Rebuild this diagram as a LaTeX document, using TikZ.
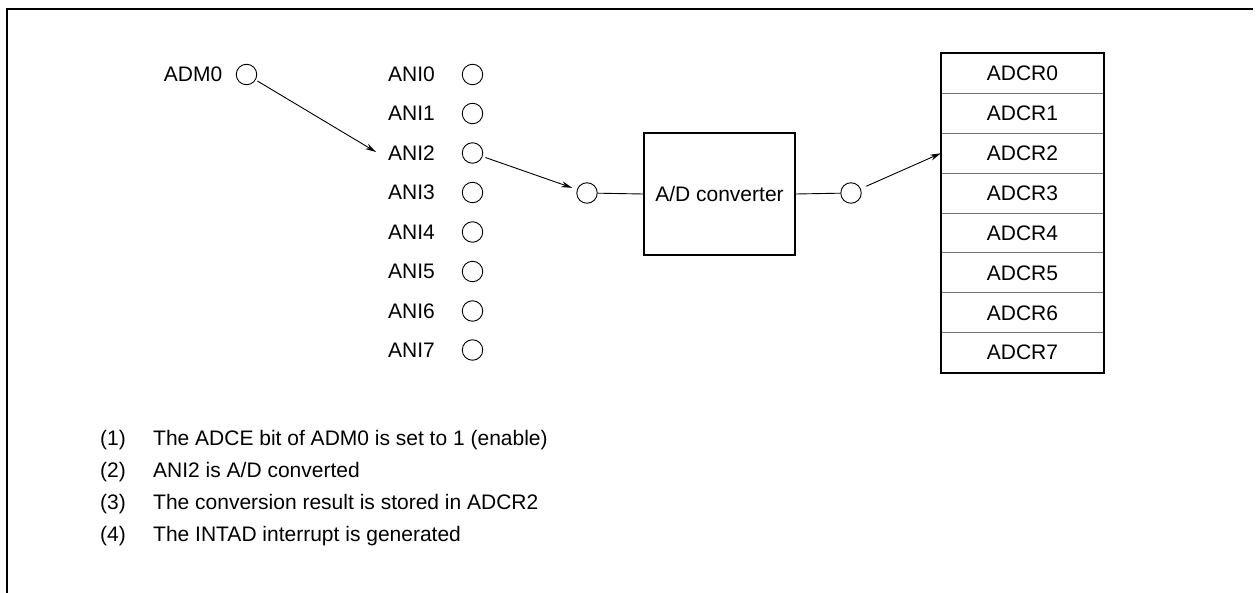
\documentclass[tikz,border=0pt]{standalone}
\usepackage{fontspec}
\setmainfont{Liberation Sans}
\usetikzlibrary{arrows.meta}
\begin{document}
\begin{tikzpicture}[x=1pt,y=-1pt,
  every node/.style={font=\fontsize{21}{25}\selectfont},
  pin/.style={circle,draw,line width=0.9pt,minimum size=20.5pt,inner sep=0pt},
  lbl/.style={anchor=east,inner sep=0pt},
  thin line/.style={line width=0.9pt},
  arr/.style={line width=0.9pt,-{Stealth[length=11pt,width=6pt]}},
  regrow/.style={draw=black!55,line width=0.9pt,minimum width=162pt,minimum height=39.9pt,inner sep=0pt,anchor=north west},
  conv/.style={draw,line width=2pt,minimum width=151pt,minimum height=122pt,inner sep=0pt},
  note/.style={anchor=base west,inner sep=0pt}]
\useasboundingbox (0,0) rectangle (1256,593);
% frame
\draw[line width=2pt] (7,593) -- (7,9) -- (1253,9);
% ADM0
\node[pin] (adm) at (246.5,74.5) {};
\node[lbl] (admlbl) at (222.5,74.5) {ADM0};
% ANI pins
\foreach \i/\y in {0/74.5,1/113.5,2/153,3/192.5,4/232,5/271.5,6/311,7/350}{
  \node[pin] (ani\i) at (472.5,\y) {};
  \node[lbl] (anilbl\i) at (435,\y) {ANI\i};
}
\coordinate (t2) at (376,152);
\draw[arr,shorten <=2pt] (adm) -- (t2);
% multiplexer output pin
\node[pin] (mux) at (587,193) {};
\draw[arr,shorten <=3pt,shorten >=5pt] (ani2) -- (mux);
% A/D converter
\node[conv] (adc) at (719.5,194) {A/D converter};
\draw[thin line] (mux) -- (adc.west);
\node[pin] (out) at (851,193) {};
\draw[thin line] (adc.east) -- (out);
% ADCR registers
\foreach \i in {0,...,7}{
  \node[regrow] (r\i) at (941,{53+39.9*\i}) {ADCR\i};
}
\draw[line width=2pt] (r0.north west) rectangle (r7.south east);
\draw[arr,shorten <=6pt] (out) -- (r2.west);
% notes
\node[note] (n1a) at (100,445.5) {(1)};
\node[note] (n1b) at (153,445.5) {The ADCE bit of ADM0 is set to 1 (enable)};
\node[note] (n2a) at (100,477.5) {(2)};
\node[note] (n2b) at (153,477.5) {ANI2 is A/D converted};
\node[note] (n3a) at (100,509.5) {(3)};
\node[note] (n3b) at (153,509.5) {The conversion result is stored in ADCR2};
\node[note] (n4a) at (100,541.5) {(4)};
\node[note] (n4b) at (153,541.5) {The INTAD interrupt is generated};
\end{tikzpicture}
\end{document}
